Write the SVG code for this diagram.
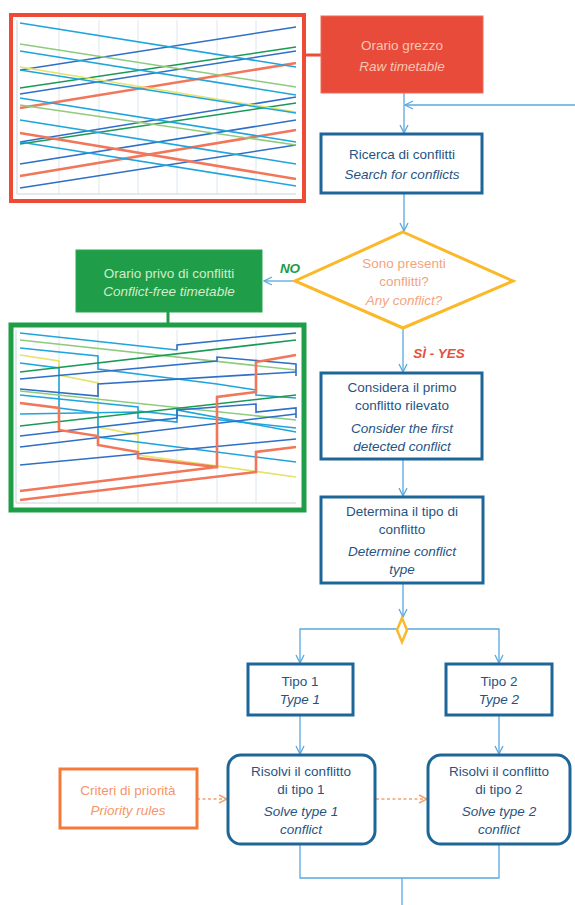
<svg xmlns="http://www.w3.org/2000/svg" width="575" height="905" viewBox="0 0 575 905">
<style>
.t{font-family:"Liberation Sans","Open Sans",sans-serif;font-size:13.5px;text-anchor:middle}
.i{font-style:italic}
.bt{fill:#1f5484}
.bx{fill:#fff;stroke:#1f6698;stroke-width:3}
.conn{fill:none;stroke:#5aa8df;stroke-width:1.3}
.grid{stroke:#dbe6ee;stroke-width:1}
.c{fill:none;stroke:#1fa5dc;stroke-width:1.6}
.b{fill:none;stroke:#2f6fc6;stroke-width:1.6}
.g{fill:none;stroke:#1a9a55;stroke-width:1.6}
.lg{fill:none;stroke:#8fcb7e;stroke-width:1.6}
.y{fill:none;stroke:#e6e26a;stroke-width:1.6}
.r{fill:none;stroke:#f2765a;stroke-width:2.6}
</style>
<defs>
<marker id="arr" viewBox="0 0 10 10" refX="9" refY="5" markerWidth="10" markerHeight="10" markerUnits="userSpaceOnUse" orient="auto"><path d="M1,1 L9,5 L1,9" fill="none" stroke="#5aa8df" stroke-width="1.3"/></marker>
<marker id="oarr" viewBox="0 0 10 10" refX="9" refY="5" markerWidth="10" markerHeight="10" markerUnits="userSpaceOnUse" orient="auto"><path d="M1,1 L9,5 L1,9" fill="none" stroke="#f4a070" stroke-width="1.5"/></marker>
</defs>
<rect width="575" height="905" fill="#fff"/>

<g id="raw-chart">
<rect x="11" y="15" width="293" height="186" fill="#fff" stroke="#ee4a35" stroke-width="4"/>
<path class="grid" d="M59,20V194M99,20V194M138,20V194M177,20V194M217,20V194M256,20V194"/>
<path d="M17,20V194H296" fill="none" stroke="#c9d3da" stroke-width="1"/>
<path class="b" d="M20,70L296,27"/>
<path class="g" d="M20,88L296,47"/>
<path class="b" d="M20,94L296,51"/>
<path class="r" d="M20,108L296,63"/>
<path class="b" d="M20,142L296,97"/>
<path class="g" d="M20,144L296,103"/>
<path class="b" d="M20,164L296,120"/>
<path class="r" d="M20,176L296,130"/>
<path class="b" d="M20,188L296,145"/>
<path class="c" d="M20,23L296,67"/>
<path class="lg" d="M20,44L296,87"/>
<path class="c" d="M20,51L296,95"/>
<path class="y" d="M20,67L296,112"/>
<path class="c" d="M20,70L296,113"/>
<path class="c" d="M20,98L296,142"/>
<path class="lg" d="M20,105L296,145"/>
<path class="c" d="M20,120L296,164"/>
<path class="r" d="M20,133L296,179"/>
<path class="c" d="M20,142L296,186"/>
</g>

<g id="free-chart">
<rect x="11" y="325" width="293" height="185" fill="#fff" stroke="#1e9e46" stroke-width="5"/>
<path class="grid" d="M59,330V503M98,330V503M138,330V503M177,330V503M217,330V503M256,330V503"/>
<path d="M16,330V503H296" fill="none" stroke="#c9d3da" stroke-width="1"/>
<path class="c" d="M20,333L177,350"/>
<path class="b" d="M177,350V345L296,333"/>
<path class="lg" d="M20,340L296,370"/>
<path class="c" d="M20,348L98,356V369L217,384L256,390V395L296,398"/>
<path class="y" d="M20,355L59,361V375L98,383V427L138,435V455L296,477"/>
<path class="c" d="M20,363L59,368V408L98,413V437L296,462"/>
<path class="g" d="M20,372L296,340"/>
<path class="b" d="M20,379L217,361V357L296,364V376"/>
<path class="b" d="M20,389L98,396V384L296,372"/>
<path class="c" d="M20,395L138,407V411L296,428"/>
<path class="lg" d="M20,391L296,420"/>
<path class="c" d="M20,414L138,412V418L177,422V410L296,432"/>
<path class="g" d="M20,426L296,395"/>
<path class="b" d="M20,436L177,418V410L256,404V412L296,408V418"/>
<path class="b" d="M20,447L296,414"/>
<path class="b" d="M20,465L296,439"/>
<path class="r" d="M20,403L59,408V430L98,436V445L138,452V458L217,467V397L256,392V362L296,355"/>
<path class="r" d="M20,491L217,467"/>
<path class="r" d="M20,500L256,472V452L296,447"/>
</g>

<g id="connectors">
<path d="M306,55H321" stroke="#ee4a35" stroke-width="3"/>
<path d="M168,312V323" stroke="#1e9e46" stroke-width="3"/>
<path class="conn" d="M404,93V133" marker-end="url(#arr)"/>
<path class="conn" d="M575,105H405" marker-end="url(#arr)"/>
<path class="conn" d="M404,193V231" marker-end="url(#arr)"/>
<path class="conn" d="M295,281H264" marker-end="url(#arr)"/>
<path class="conn" d="M403,328V372" marker-end="url(#arr)"/>
<path class="conn" d="M403,459V496" marker-end="url(#arr)"/>
<path class="conn" d="M403,583V617" marker-end="url(#arr)"/>
<path class="conn" d="M397,629H300V663" marker-end="url(#arr)"/>
<path class="conn" d="M407,629H499V663" marker-end="url(#arr)"/>
<path class="conn" d="M300,715V754" marker-end="url(#arr)"/>
<path class="conn" d="M499,715V754" marker-end="url(#arr)"/>
<path class="conn" d="M300,844V878H499V844M402,878V905"/>
<path d="M197,799H227" fill="none" stroke="#f4a070" stroke-width="1.5" stroke-dasharray="3,2.5" marker-end="url(#oarr)"/>
<path d="M376,799H427" fill="none" stroke="#f4a070" stroke-width="1.5" stroke-dasharray="3,2.5" marker-end="url(#oarr)"/>
</g>

<g id="raw-timetable">
<rect x="321" y="16" width="162" height="77" fill="#e94b3a" stroke="#f06a55" stroke-width="1"/>
<text class="t" x="402" y="50" fill="#f8c6b6">Orario grezzo</text>
<text class="t i" x="402" y="71" fill="#f8c6b6">Raw timetable</text>
</g>

<g id="search">
<rect class="bx" x="321" y="134" width="161" height="59"/>
<text class="t bt" x="402" y="159">Ricerca di conflitti</text>
<text class="t bt i" x="402" y="179">Search for conflicts</text>
</g>

<g id="any-conflict">
<polygon points="403,232 513,281 403,328 295,281" fill="#fff" stroke="#fbb829" stroke-width="3"/>
<text class="t" x="404" y="268" fill="#f5a37c">Sono presenti</text>
<text class="t" x="404" y="286" fill="#f5a37c">conflitti?</text>
<text class="t i" x="404" y="305" fill="#f5a37c">Any conflict?</text>
</g>

<g id="no-label">
<text class="t i" x="290" y="273" fill="#1a9c4a" font-weight="bold" font-size="15.5">NO</text>
</g>

<g id="yes-label">
<text class="t i" x="439" y="358" fill="#e8503d" font-weight="bold" font-size="14.5">SÌ - YES</text>
</g>

<g id="conflict-free">
<rect x="76" y="250" width="186" height="62" fill="#1f9d48" stroke="#2aa853" stroke-width="1"/>
<text class="t" x="169" y="278" fill="#d4ecc9">Orario privo di conflitti</text>
<text class="t i" x="169" y="296" fill="#d4ecc9">Conflict-free timetable</text>
</g>

<g id="first-conflict">
<rect class="bx" x="321" y="373" width="161" height="86"/>
<text class="t bt" x="402" y="392">Considera il primo</text>
<text class="t bt" x="402" y="410">conflitto rilevato</text>
<text class="t bt i" x="402" y="433">Consider the first</text>
<text class="t bt i" x="402" y="451">detected conflict</text>
</g>

<g id="determine-type">
<rect class="bx" x="321" y="497" width="162" height="86"/>
<text class="t bt" x="402" y="516">Determina il tipo di</text>
<text class="t bt" x="402" y="534">conflitto</text>
<text class="t bt i" x="402" y="556">Determine conflict</text>
<text class="t bt i" x="402" y="574">type</text>
</g>

<g id="split">
<polygon points="402,618 407,630 402,642 397,630" fill="#fff" stroke="#fbb829" stroke-width="2.5"/>
</g>

<g id="type1">
<rect class="bx" x="248" y="664" width="105" height="51"/>
<text class="t bt" x="300" y="686">Tipo 1</text>
<text class="t bt i" x="300" y="704">Type 1</text>
</g>

<g id="type2">
<rect class="bx" x="446" y="664" width="106" height="51"/>
<text class="t bt" x="499" y="686">Tipo 2</text>
<text class="t bt i" x="499" y="704">Type 2</text>
</g>

<g id="solve1">
<rect class="bx" x="228" y="755" width="147" height="89" rx="13"/>
<text class="t bt" x="301" y="776">Risolvi il conflitto</text>
<text class="t bt" x="301" y="794">di tipo 1</text>
<text class="t bt i" x="301" y="816">Solve type 1</text>
<text class="t bt i" x="301" y="834">conflict</text>
</g>

<g id="solve2">
<rect class="bx" x="428" y="755" width="142" height="89" rx="13"/>
<text class="t bt" x="499" y="776">Risolvi il conflitto</text>
<text class="t bt" x="499" y="794">di tipo 2</text>
<text class="t bt i" x="499" y="816">Solve type 2</text>
<text class="t bt i" x="499" y="834">conflict</text>
</g>

<g id="priority">
<rect x="60" y="769" width="137" height="59" fill="#fff" stroke="#f47a3a" stroke-width="3"/>
<text class="t" x="128" y="795" fill="#f4966a">Criteri di priorità</text>
<text class="t i" x="128" y="815" fill="#f4966a">Priority rules</text>
</g>
</svg>
